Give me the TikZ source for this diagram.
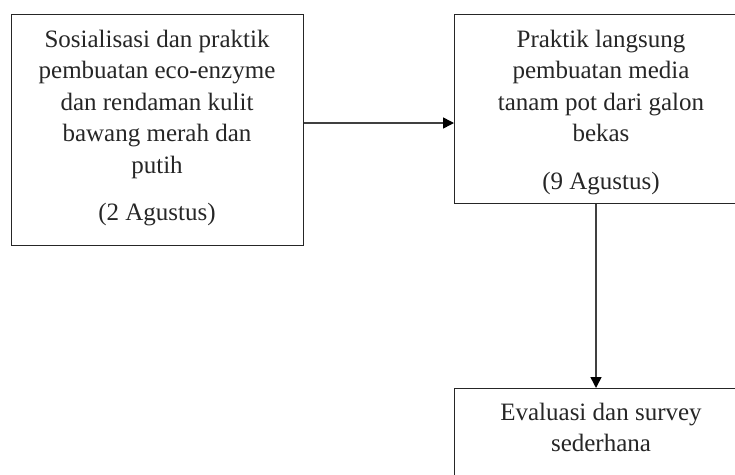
\documentclass[tikz,border=0pt]{standalone}
\usepackage{fontspec}
\setmainfont{Liberation Serif}
\usetikzlibrary{arrows.meta}
\begin{document}
\begin{tikzpicture}[x=1pt,y=-1pt,
  box/.style={draw=black!85, line width=1.1pt, minimum width=292pt, anchor=north west, inner sep=0pt},
  lbl/.style={align=center, font=\fontsize{25}{31.5}\selectfont, anchor=north, inner sep=0pt, text=black!85},
  arr/.style={-{Triangle[length=11pt,width=11pt,color=black]}, line width=1.5pt, draw=black!75}]
\useasboundingbox (0,0) rectangle (735,474);
\clip (0,0) rectangle (735,474);
\node[box, minimum height=231pt] (b1) at (11,14) {};
\node[box, minimum height=189pt, minimum width=294pt] (b2) at (454,14) {};
\node[box, minimum height=120pt, minimum width=294pt] (b3) at (454,388) {};
\node[lbl] (t1) at (157,29.5) {Sosialisasi dan praktik\\pembuatan eco-enzyme\\dan rendaman kulit\\bawang merah dan\\putih\\[16pt](2 Agustus)};
\node[lbl] (t2) at (601,29.5) {Praktik langsung\\pembuatan media\\tanam pot dari galon\\bekas\\[16pt](9 Agustus)};
\node[lbl] (t3) at (601,402.5) {Evaluasi dan survey\\sederhana};
\draw[arr] (b1.east |- 0,123) -- (b2.west |- 0,123);
\draw[arr] (b2.south -| 596,0) -- (b3.north -| 596,0);
\end{tikzpicture}
\end{document}
